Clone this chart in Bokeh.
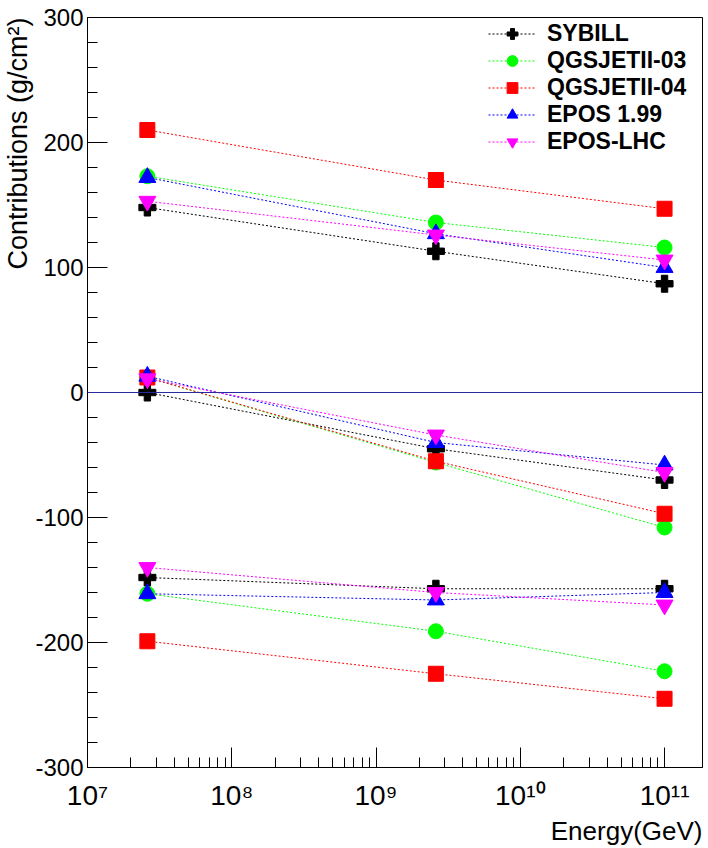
from bokeh.plotting import figure
from bokeh.models import Range1d, Span, Legend, LegendItem, FixedTicker, Title
from bokeh.embed import file_html
from bokeh.resources import INLINE

# ---------------- data ----------------
energy = [2.6e7, 2.6e9, 1.0e11]  # GeV

models = ["SYBILL", "QGSJETII-03", "QGSJETII-04", "EPOS 1.99", "EPOS-LHC"]

sybill_top = [148, 113, 87]
sybill_mid = [0, -45, -70]
sybill_bot = [-148, -157, -157]

qgs03_top = [173, 136, 116]
qgs03_mid = [12, -56, -108]
qgs03_bot = [-161, -191, -223]

qgs04_top = [210, 170, 147]
qgs04_mid = [12, -55, -97]
qgs04_bot = [-199, -225, -245]

epos199_top = [172, 127, 100]
epos199_mid = [13, -40, -58]
epos199_bot = [-161, -166, -160]

eposlhc_top = [153, 126, 106]
eposlhc_mid = [11, -34, -64]
eposlhc_bot = [-140, -160, -170]

x_ticks = [1e7, 1e8, 1e9, 1e10, 1e11]
x_tick_labels = ["10\u2077", "10\u2078", "10\u2079", "10\u00b9\u2070", "10\u00b9\u00b9"]
y_ticks = [-300, -200, -100, 0, 100, 200, 300]
y_tick_labels = ["-300", "-200", "-100", "0", "100", "200", "300"]

x_title = "Energy(GeV)"
y_title = "Contributions (g/cm\u00b2)"

# ---------------- styles ----------------
series = {
    "SYBILL": (sybill_top, sybill_mid, sybill_bot),
    "QGSJETII-03": (qgs03_top, qgs03_mid, qgs03_bot),
    "QGSJETII-04": (qgs04_top, qgs04_mid, qgs04_bot),
    "EPOS 1.99": (epos199_top, epos199_mid, epos199_bot),
    "EPOS-LHC": (eposlhc_top, eposlhc_mid, eposlhc_bot),
}
colors = {"SYBILL": "black", "QGSJETII-03": "#00ff00", "QGSJETII-04": "#ff0000",
          "EPOS 1.99": "#0000ff", "EPOS-LHC": "#ff00ff"}
markers = {"SYBILL": "plus", "QGSJETII-03": "circle", "QGSJETII-04": "square",
           "EPOS 1.99": "triangle", "EPOS-LHC": "inverted_triangle"}
msizes = {"SYBILL": 17, "QGSJETII-03": 15, "QGSJETII-04": 15,
          "EPOS 1.99": 17, "EPOS-LHC": 17}

FONT = "Liberation Sans"
X_MIN, X_MAX_LOG = 1e7, 11.263
Y_MIN, Y_MAX = -300, 300

p = figure(width=708, height=848, x_axis_type="log",
           x_range=Range1d(X_MIN, 10 ** X_MAX_LOG), y_range=Range1d(Y_MIN, Y_MAX),
           output_backend="svg", toolbar_location=None,
           min_border_left=86, min_border_right=6, min_border_top=17, min_border_bottom=81)

p.xgrid.visible = False
p.ygrid.visible = False
p.outline_line_color = "black"
p.outline_line_width = 1
p.background_fill_color = "white"
p.border_fill_color = "white"

# x axis
x_minor = [m * 10 ** k for k in range(7, 12) for m in range(2, 10) if m * 10 ** k <= 10 ** X_MAX_LOG]
p.xaxis.ticker = FixedTicker(ticks=x_ticks, minor_ticks=x_minor)
p.xaxis.major_label_overrides = {t: l for t, l in zip(x_ticks, x_tick_labels)}
p.xaxis.major_label_text_font = FONT
p.xaxis.major_label_text_font_size = "28px"
p.xaxis.major_label_standoff = 12
# y axis
y_minor = list(range(-300, 301, 20))
p.yaxis.ticker = FixedTicker(ticks=y_ticks, minor_ticks=y_minor)
p.yaxis.major_label_overrides = {t: l for t, l in zip(y_ticks, y_tick_labels)}
p.yaxis.major_label_text_font = FONT
p.yaxis.major_label_text_font_size = "24px"
p.yaxis.major_label_standoff = 4

for ax in (p.xaxis, p.yaxis):
    ax.major_tick_in = 20
    ax.major_tick_out = 0
    ax.minor_tick_in = 10
    ax.minor_tick_out = 0
    ax.axis_line_color = "black"
    ax.major_tick_line_color = "black"
    ax.minor_tick_line_color = "black"
    ax.major_label_text_color = "black"

# zero line
p.add_layout(Span(location=0, dimension="width", line_color="#2a2aa0", line_width=1))

items = []
for name in models:
    groups = series[name]
    c = colors[name]
    first_line = None
    for vals in groups:
        r = p.line(energy, vals, line_color=c, line_width=1, line_dash="2 2")
        if first_line is None:
            first_line = r
    xs = energy * len(groups)
    ys = [v for vals in groups for v in vals]
    sr = p.scatter(xs, ys, marker=markers[name], size=msizes[name],
                   fill_color=c, line_color=c, line_width=1)
    items.append(LegendItem(label=name, renderers=[first_line, sr]))

legend = Legend(items=items, location="top_right", orientation="vertical",
                glyph_width=48, glyph_height=27, spacing=0, label_standoff=11,
                padding=3, margin=0, border_line_alpha=0, background_fill_alpha=0,
                label_text_font=FONT, label_text_font_style="bold",
                label_text_font_size="23px", label_text_color="black",
                label_height=27, label_width=152)
p.add_layout(legend)

# axis titles (ROOT style, aligned to the axis end)
p.add_layout(Title(text=y_title, align="right", text_font=FONT, text_font_size="27px",
                   text_font_style="normal", text_color="black", standoff=0), "left")
p.add_layout(Title(text=x_title, align="right", text_font=FONT, text_font_size="26px",
                   text_font_style="normal", text_color="black", standoff=0), "below")

open("out.html", "w").write(file_html(p, INLINE))
